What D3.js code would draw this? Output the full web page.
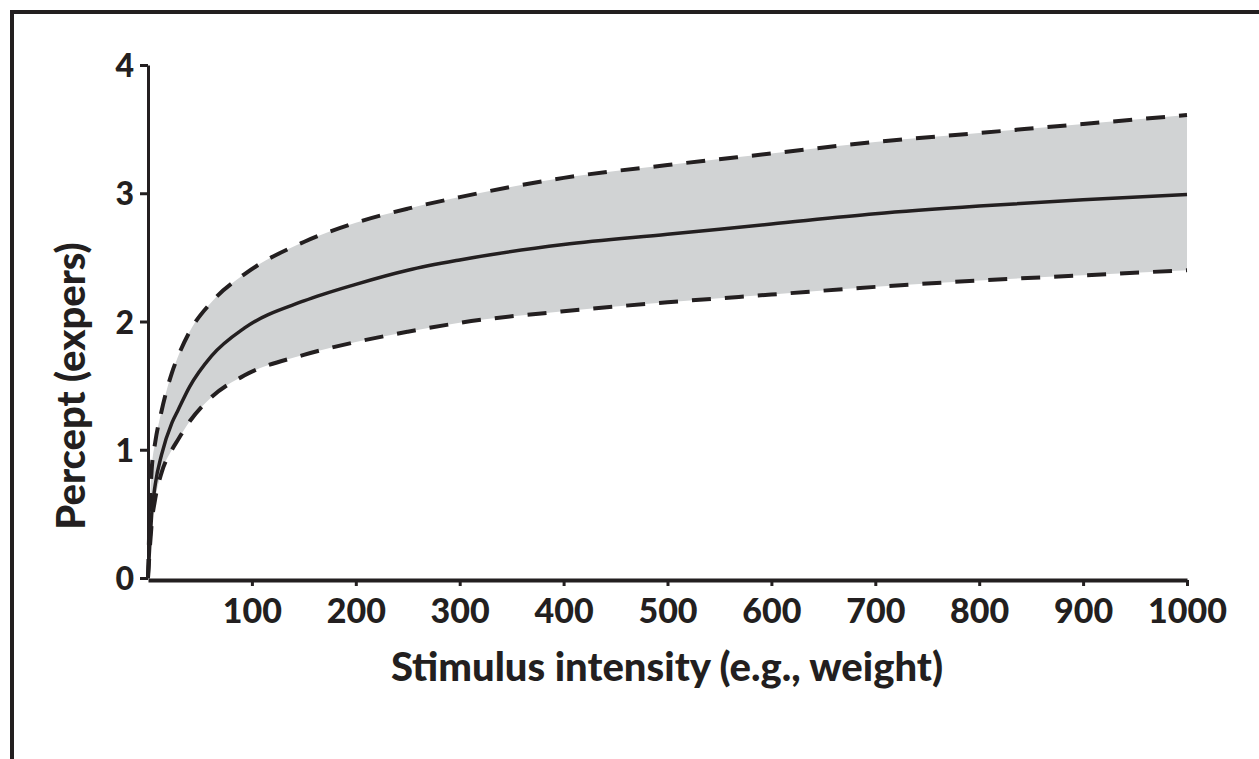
<!DOCTYPE html>
<html>
<head>
<meta charset="utf-8">
<script src="https://cdn.jsdelivr.net/npm/d3@7"></script>
<style>
  html, body { margin: 0; padding: 0; background: #fff; }
  svg { display: block; font-family: Lato, "Open Sans", sans-serif; }
</style>
</head>
<body>
<svg id="chart"></svg>
<script>
// Values
const stimulus      = [0, 2, 3.5, 7, 13, 23, 29, 40, 61, 93, 150, 200, 250, 300, 400, 500, 600, 700, 800, 900, 1000];
const perceptMean   = [0, 0.30, 0.49, 0.73, 0.96, 1.21, 1.31, 1.49, 1.73, 1.95, 2.16, 2.29, 2.40, 2.48, 2.60, 2.68, 2.76, 2.84, 2.90, 2.95, 2.99];
const perceptUpper  = [0, 0.58, 0.84, 1.06, 1.30, 1.60, 1.73, 1.92, 2.15, 2.37, 2.62, 2.77, 2.88, 2.97, 3.12, 3.22, 3.31, 3.40, 3.47, 3.54, 3.61];
const perceptLower  = [0, 0.26, 0.42, 0.62, 0.82, 1.00, 1.08, 1.22, 1.41, 1.58, 1.74, 1.84, 1.92, 1.99, 2.08, 2.15, 2.21, 2.27, 2.32, 2.36, 2.40];
const xTicks = [100, 200, 300, 400, 500, 600, 700, 800, 900, 1000];
const yTicks = [0, 1, 2, 3, 4];

const width = 1259;
const height = 759;
const ink = '#231f20';
const font = 'Lato, "Open Sans", sans-serif';

const svg = d3.select('#chart')
    .attr('width', width)
    .attr('height', height);

// Frame (only left and top edges fall inside the picture)
svg.append('path')
  .attr('d', `M12,${height + 10}V12H${width + 10}`)
  .attr('fill', 'none')
  .attr('stroke', ink)
  .attr('stroke-width', 4);

// Scales
const x = d3.scaleLinear().domain([0, 1000]).range([148, 1187]);
const y = d3.scaleLinear().domain([0, 4]).range([578, 65]);

const rows = stimulus.map((s, i) => ({
  s: s, mean: perceptMean[i], upper: perceptUpper[i], lower: perceptLower[i]
}));

// Shaded band
const band = d3.area()
  .x(d => x(d.s))
  .y0(d => y(d.lower))
  .y1(d => y(d.upper))
  .curve(d3.curveMonotoneX);

svg.append('path')
  .datum(rows)
  .attr('d', band)
  .attr('fill', '#d1d3d4');

const line = key => d3.line()
  .x(d => x(d.s))
  .y(d => y(d[key]))
  .curve(d3.curveMonotoneX);

// Dashed bounds
['upper', 'lower'].forEach(key => {
  svg.append('path')
    .datum(rows)
    .attr('d', line(key))
    .attr('fill', 'none')
    .attr('stroke', ink)
    .attr('stroke-width', 4)
    .attr('stroke-dasharray', '19,14');
});

// Mean curve
svg.append('path')
  .datum(rows)
  .attr('d', line('mean'))
  .attr('fill', 'none')
  .attr('stroke', ink)
  .attr('stroke-width', 3.5);

// Y axis
const yAxis = svg.append('g')
  .attr('transform', 'translate(148,0)')
  .call(d3.axisLeft(y).tickValues(yTicks).tickFormat(d3.format('d'))
    .tickSize(8).tickSizeOuter(0).tickPadding(6))
  .attr('font-family', font);

yAxis.select('.domain').attr('stroke', ink).attr('stroke-width', 3);
yAxis.selectAll('.tick line').attr('stroke', ink).attr('stroke-width', 3);
yAxis.selectAll('.tick text')
  .attr('fill', ink)
  .attr('font-size', 32)
  .attr('font-weight', 900)
  .attr('dy', '0.36em');

// X axis
const xAxis = svg.append('g')
  .attr('transform', 'translate(0,580)')
  .call(d3.axisBottom(x).tickValues(xTicks).tickFormat(d3.format('d'))
    .tickSize(6).tickSizeOuter(0).tickPadding(13))
  .attr('font-family', font);

xAxis.select('.domain').attr('stroke', ink).attr('stroke-width', 4);
xAxis.selectAll('.tick line').attr('stroke', ink).attr('stroke-width', 3);
xAxis.selectAll('.tick text')
  .attr('fill', ink)
  .attr('font-size', 34)
  .attr('font-weight', 900);

// Axis titles
svg.append('text')
  .attr('x', 667)
  .attr('y', 681)
  .attr('text-anchor', 'middle')
  .attr('font-size', 40)
  .attr('font-weight', 900)
  .attr('fill', ink)
  .text('Stimulus intensity (e.g., weight)');

svg.append('text')
  .attr('transform', 'translate(85,386) rotate(-90)')
  .attr('text-anchor', 'middle')
  .attr('font-size', 40)
  .attr('font-weight', 900)
  .attr('fill', ink)
  .text('Percept (expers)');
</script>
</body>
</html>
